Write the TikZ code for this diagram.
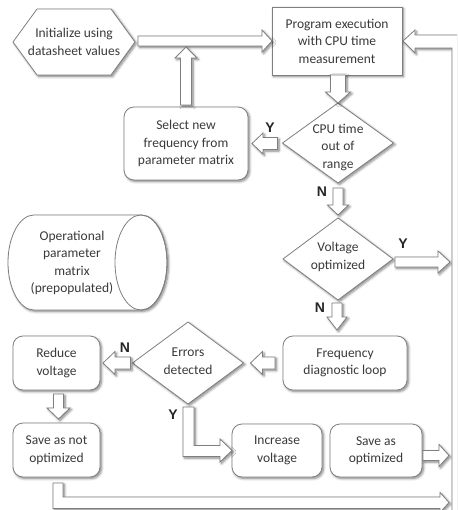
\documentclass[tikz,border=0pt]{standalone}
\usepackage{fontspec}
\setmainfont{Carlito}
\newfontfamily\labelfont{Liberation Sans}
\usetikzlibrary{shapes.geometric,calc,shadows.blur}

\definecolor{edge}{HTML}{7F7F7F}
\definecolor{ink}{HTML}{3A3A3A}

\tikzset{
  softshadow/.style={blur shadow={shadow blur steps=6, shadow xshift=1.5pt,
      shadow yshift=-1.5pt, shadow blur radius=2.5pt, shadow opacity=50}},
  txt/.style={text=ink, font=\fontsize{13.5}{17.5}\selectfont, align=center,
      inner sep=0pt, outer sep=0pt},
  base/.style={txt, draw=edge, line width=0.8pt, fill=white, softshadow},
  procbox/.style={base, rectangle, rounded corners=10pt},
  plainbox/.style={base, rectangle},
  decision/.style={base, diamond},
  outline/.style={draw=edge, line width=0.8pt, fill=white, softshadow, line join=miter},
  plainline/.style={draw=edge, line width=0.8pt},
  yn/.style={font=\labelfont\bfseries\fontsize{14}{14}\selectfont, text=black!85, inner sep=0pt},
}

% block arrows: start point, tip, shaft half width, head half width, head length
\newcommand\arrR[5]{\draw[outline] let \p1=(#1), \p2=(#2) in
  (\x1,\y2+#3) -- (\x2-#5,\y2+#3) -- (\x2-#5,\y2+#4) -- (\x2,\y2) --
  (\x2-#5,\y2-#4) -- (\x2-#5,\y2-#3) -- (\x1,\y2-#3) -- cycle;}
\newcommand\arrL[5]{\draw[outline] let \p1=(#1), \p2=(#2) in
  (\x1,\y2+#3) -- (\x2+#5,\y2+#3) -- (\x2+#5,\y2+#4) -- (\x2,\y2) --
  (\x2+#5,\y2-#4) -- (\x2+#5,\y2-#3) -- (\x1,\y2-#3) -- cycle;}
\newcommand\arrD[5]{\draw[outline] let \p1=(#1), \p2=(#2) in
  (\x2-#3,\y1) -- (\x2-#3,\y2+#5) -- (\x2-#4,\y2+#5) -- (\x2,\y2) --
  (\x2+#4,\y2+#5) -- (\x2+#3,\y2+#5) -- (\x2+#3,\y1) -- cycle;}
\newcommand\arrU[5]{\draw[outline] let \p1=(#1), \p2=(#2) in
  (\x2-#3,\y1) -- (\x2-#3,\y2-#5) -- (\x2-#4,\y2-#5) -- (\x2,\y2) --
  (\x2+#4,\y2-#5) -- (\x2+#3,\y2-#5) -- (\x2+#3,\y1) -- cycle;}

\begin{document}
\begin{tikzpicture}[x=1pt, y=-1pt]
\useasboundingbox (0,0) rectangle (457,510);
\clip (0,0) rectangle (457,510);

% start: hexagon
\coordinate (initc) at (74,42);
\draw[outline] ($(initc)+(-61,0)$) -- ($(initc)+(-37,-33)$) -- ($(initc)+(37,-33)$)
  -- ($(initc)+(61,0)$) -- ($(initc)+(37,33)$) -- ($(initc)+(-37,33)$) -- cycle;
\node[txt, minimum width=122pt, minimum height=66pt] (init) at (initc) {Initialize using\\datasheet values};

\node[plainbox, minimum width=130pt, minimum height=68pt] (prog) at (337,41)
  {Program execution\\with CPU time\\measurement};
\node[procbox, minimum width=124pt, minimum height=73pt] (select) at (186,143.5)
  {Select new\\frequency from\\parameter matrix};

\node[decision, minimum width=111pt, minimum height=80pt] (cpu) at (338,143) {};
\node[txt] (cpu-t) at ($(cpu)+(0,4)$) {CPU time\\out of\\range};

\node[decision, minimum width=110pt, minimum height=82pt] (volt) at (338,259) {};
\node[txt] (volt-t) at ($(volt)+(0,-2)$) {Voltage\\optimized};

% storage: horizontal cylinder with its end face on the right
\coordinate (capl) at (34,262.5);
\coordinate (capr) at (141,262.5);
\draw[outline] ($(capl)+(0,-47.5)$) -- ($(capr)+(0,-47.5)$)
  arc[start angle=90, end angle=-90, x radius=26pt, y radius=47.5pt]
  -- ($(capl)+(0,47.5)$)
  arc[start angle=270, end angle=90, x radius=26pt, y radius=47.5pt] -- cycle;
\draw[plainline] (capr) ellipse[x radius=26pt, y radius=47.5pt];
\node[txt] (matrix) at (72,263) {Operational\\parameter\\matrix\\(prepopulated)};

\node[procbox, minimum width=124pt, minimum height=54pt] (freq) at (345,363)
  {Frequency\\diagnostic loop};

\node[decision, minimum width=111pt, minimum height=82pt] (errors) at (188,363) {};
\node[txt] (errors-t) at ($(errors)+(0,-2)$) {Errors\\detected};

\node[procbox, minimum width=87pt, minimum height=54pt] (reduce) at (56.5,363) {Reduce\\voltage};
\node[procbox, minimum width=87pt, minimum height=54pt] (savenot) at (56.5,450) {Save as not\\optimized};
\node[procbox, minimum width=90pt, minimum height=53pt] (increase) at (277,450.5) {Increase\\voltage};
\node[procbox, minimum width=92pt, minimum height=53pt] (saveopt) at (376,450.5) {Save as\\optimized};

% return rail on the right edge
\coordinate (rail) at (452,0);

% connectors
\arrR{$(init.east)+(3,0)$}{prog.west}{5pt}{11pt}{10pt}
\coordinate (join) at (186,47);
\arrU{$(select.north)+(0,-2)$}{join}{5.5pt}{11pt}{11pt}
\arrD{prog.south}{cpu.north}{7.5pt}{12.5pt}{11pt}
\arrL{$(cpu.west)+(-5,0)$}{$(select.east)+(4,0)$}{6pt}{10.5pt}{11pt}
\arrD{$(cpu.south)+(0,5)$}{$(volt.north)+(0,-3)$}{5pt}{10.5pt}{10pt}
\arrR{$(volt.east)+(2,3)$}{$(rail |- volt.east)+(-2,3)$}{5pt}{11pt}{12pt}
\arrD{$(volt.south)+(0,3)$}{$(volt.south |- freq.north)+(-1,-6)$}{5pt}{10pt}{13pt}
\arrL{$(freq.west)+(-8,0)$}{$(errors.east)+(7,0)$}{6pt}{11.5pt}{12pt}
\arrL{$(errors.west)+(-2,0)$}{$(reduce.east)+(3,0)$}{6pt}{11.5pt}{12pt}
\arrD{$(reduce.south)+(2,4)$}{$(savenot.north)+(2,-4)$}{5pt}{11.5pt}{11pt}
\arrR{$(saveopt.east)+(1,5)$}{$(rail |- saveopt.east)+(-3,5)$}{5pt}{11pt}{10pt}

% bent arrow: errors detected -> increase voltage
\draw[outline] let \p1=(errors.south), \p2=(increase.west) in
  (\x1-5pt,\y1-3pt) -- (\x1-5pt,\y2-6pt) -- (\x2-12pt,\y2-6pt) -- (\x2-12pt,\y2-11.5pt)
  -- (\x2,\y2) -- (\x2-12pt,\y2+11.5pt) -- (\x2-12pt,\y2+5pt) -- (\x1+6pt,\y2+5pt)
  -- (\x1+6pt,\y1-3pt) -- cycle;

% bent arrow: save as not optimized -> return rail
\coordinate (bottip) at (449,502.5);
\draw[outline] let \p1=(savenot.south), \p2=(bottip) in
  (\x1-3.5pt,\y1-6pt) -- (\x1-3.5pt,\y2-6pt) -- (\x2-9pt,\y2-6pt) -- (\x2-9pt,\y2-10pt)
  -- (\x2,\y2) -- (\x2-9pt,\y2+10pt) -- (\x2-9pt,\y2+5.5pt) -- (\x1+6.5pt,\y2+5.5pt)
  -- (\x1+6.5pt,\y1-6pt) -- cycle;

% return rail back into program execution
\draw[outline] let \p1=(prog.east), \p2=(rail) in
  (\x1+1pt,\y1) -- (\x1+13pt,\y1+11pt) -- (\x1+13pt,\y1+6pt) -- (\x2+13pt,\y1+6pt)
  -- (\x2+13pt,-520pt) -- (\x2,-520pt) -- (\x2,\y1-7pt) -- (\x1+13pt,\y1-7pt)
  -- (\x1+13pt,\y1-12pt) -- cycle;

% Y / N labels
\node[yn] (y1) at (270,128) {Y};
\node[yn] (n1) at (322,192) {N};
\node[yn] (y2) at (403,244) {Y};
\node[yn] (n2) at (320,308) {N};
\node[yn] (n3) at (125,348) {N};
\node[yn] (y3) at (173,415) {Y};
\end{tikzpicture}
\end{document}
